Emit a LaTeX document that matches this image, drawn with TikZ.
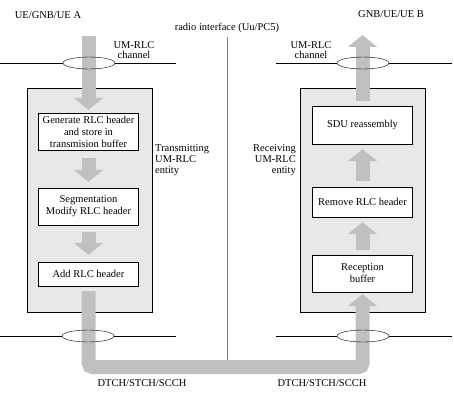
\documentclass[tikz,border=0pt]{standalone}
\usepackage{fontspec}
\setmainfont{Liberation Serif}
\usetikzlibrary{arrows.meta,shapes.geometric}
\definecolor{flowgray}{RGB}{192,192,192}
\definecolor{entityfill}{RGB}{232,232,232}
\begin{document}
\begin{tikzpicture}[
    x=1pt, y=-1pt,
    every node/.style={font=\fontsize{10.5}{12}\selectfont, inner sep=1pt},
    entity/.style={draw, fill=entityfill, minimum width=125pt, minimum height=224pt},
    stage/.style={draw, fill=white, align=center, minimum width=100pt},
    chan/.style={draw, ellipse, minimum width=52pt, minimum height=12pt, inner sep=0pt},
    flow/.style={draw=flowgray, line width=14pt,
        -{Triangle[width=29pt, length=12pt]}},
    side/.style={align=left}
]
\useasboundingbox (0,0) rectangle (454,401);

% peers and air interface
\node (peerA) at (48,15) {UE/GNB/UE A};
\node (peerB) at (391,14) {GNB/UE/UE B};
\node (radio) at (227,28) {radio interface (Uu/PC5)};
\coordinate (airtop) at (227,37);
\coordinate (airbot) at (227,360);
\draw[gray] (airtop) -- (airbot);

% channel lines
\coordinate (lnTL0) at (0,63);   \coordinate (lnTL1) at (176,63);
\coordinate (lnTR0) at (276,63); \coordinate (lnTR1) at (452,63);
\coordinate (lnBL0) at (0,336);  \coordinate (lnBL1) at (176,336);
\coordinate (lnBR0) at (276,336);\coordinate (lnBR1) at (452,336);

% entities
\node[entity] (txent) at (89.5,200) {};
\node[entity] (rxent) at (363,200) {};
\node[side, anchor=north west] (txlbl) at (154,143)
    {Transmitting\\[-1pt]UM-RLC\\[-1pt]entity};
\node[side, align=right, anchor=north east] (rxlbl) at (297,143)
    {Receiving\\[-1pt]UM-RLC\\[-1pt]entity};

% transmitting side
\node[stage, minimum height=37pt] (gen) at (88.5,131.5)
    {Generate RLC header\\and store in\\transmision buffer};
\node[stage, minimum height=37pt] (seg) at (88.5,206.5)
    {Segmentation\\Modify RLC header};
\node[stage, minimum height=24pt] (add) at (88.5,274) {Add RLC header};

% receiving side
\node[stage, minimum height=38pt] (sdu) at (362.5,125) {SDU reassembly};
\node[stage, minimum height=30pt] (rem) at (362.5,202) {Remove RLC header};
\node[stage, minimum height=37pt] (recv) at (362.5,273.5) {Reception\\buffer};

% data flow
\coordinate (inA) at (88.5,36);
\coordinate (outB) at (362.5,35);
\coordinate (bendL) at (88.5,367);
\coordinate (bendR) at (362.5,367);
\draw[flow, shorten >=3pt] (inA) -- (gen);
\draw[flow, shorten <=8pt, shorten >=6pt] (gen) -- (seg);
\draw[flow, shorten <=7pt, shorten >=7pt] (seg) -- (add);
\draw[flow, shorten <=5pt] (sdu) -- (outB);
\draw[flow, shorten <=6pt, shorten >=5pt] (rem) -- (sdu);
\draw[flow, shorten <=5pt, shorten >=5pt] (recv) -- (rem);
\draw[flow, rounded corners=4pt, shorten <=5pt, shorten >=2pt]
    (add) -- (bendL) -- (bendR) -- (recv);

% UM-RLC channels
\node[chan] (ellTL) at (89,63) {};
\node[chan] (ellTR) at (363,63) {};
\node[chan] (ellBL) at (88,336) {};
\node[chan] (ellBR) at (363,336) {};
\draw (lnTL0) -- (ellTL.west) (ellTL.east) -- (lnTL1);
\draw (lnTR0) -- (ellTR.west) (ellTR.east) -- (lnTR1);
\draw (lnBL0) -- (ellBL.west) (ellBL.east) -- (lnBL1);
\draw (lnBR0) -- (ellBR.west) (ellBR.east) -- (lnBR1);
\node[align=center] (chanL) at (134,50) {UM-RLC\\[-2pt]channel};
\node[align=center] (chanR) at (311,50) {UM-RLC\\[-2pt]channel};

% logical channels
\node (logL) at (142,383) {DTCH/STCH/SCCH};
\node (logR) at (322,383) {DTCH/STCH/SCCH};
\end{tikzpicture}
\end{document}
